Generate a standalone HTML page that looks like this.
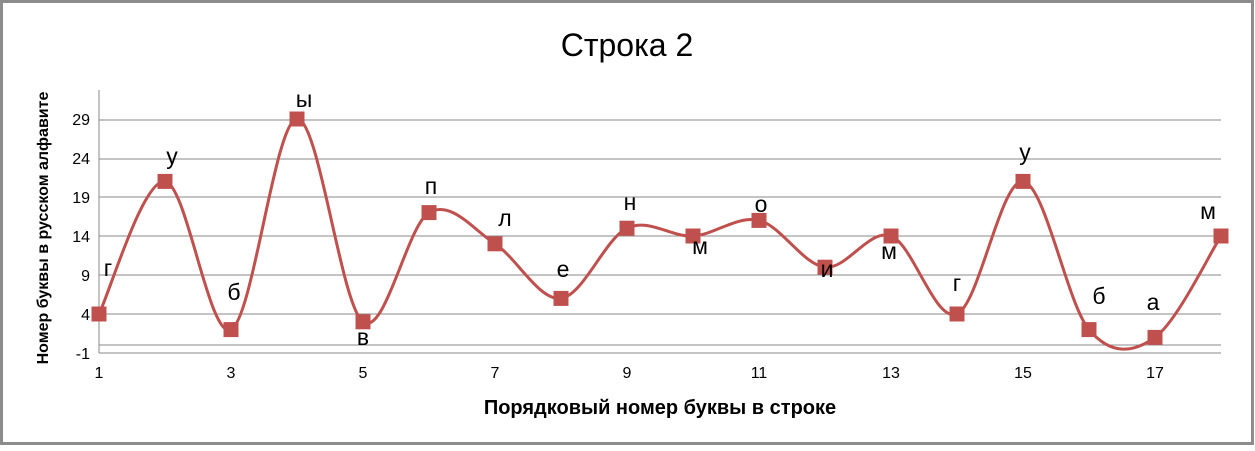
<!DOCTYPE html>
<html><head><meta charset="utf-8"><style>body{margin:0;background:#fff}</style></head><body>
<svg width="1255" height="446" xmlns="http://www.w3.org/2000/svg" font-family="Liberation Sans, DejaVu Sans, sans-serif">
<rect x="1.5" y="1.5" width="1251" height="442" fill="#fff" stroke="#8c8c8c" stroke-width="3"/>
<text x="627" y="56" font-size="32" text-anchor="middle" fill="#000">Строка 2</text>
<g stroke="#8a8a8a" stroke-width="1">
<line x1="99" y1="120" x2="1221" y2="120"/><line x1="99" y1="159" x2="1221" y2="159"/>
<line x1="99" y1="197" x2="1221" y2="197"/><line x1="99" y1="236" x2="1221" y2="236"/>
<line x1="99" y1="275" x2="1221" y2="275"/><line x1="99" y1="314" x2="1221" y2="314"/>
<line x1="99" y1="345" x2="1221" y2="345"/><line x1="99" y1="353" x2="1221" y2="353"/>
<line x1="99" y1="90" x2="99" y2="353"/>
</g>
<g font-size="16" text-anchor="end" fill="#000">
<text x="90" y="125">29</text><text x="90" y="164">24</text><text x="90" y="203">19</text>
<text x="90" y="242">14</text><text x="90" y="281">9</text><text x="90" y="320">4</text><text x="90" y="359">-1</text>
</g>
<g font-size="16" text-anchor="middle" fill="#000">
<text x="99" y="378">1</text><text x="231" y="378">3</text><text x="363" y="378">5</text><text x="495" y="378">7</text>
<text x="627" y="378">9</text><text x="759" y="378">11</text><text x="891" y="378">13</text><text x="1023" y="378">15</text><text x="1155" y="378">17</text>
</g>
<text x="660" y="414" font-size="20" font-weight="bold" text-anchor="middle">Порядковый номер буквы в строке</text>
<text transform="translate(48,228) rotate(-90)" font-size="16" font-weight="bold" text-anchor="middle">Номер буквы в русском алфавите</text>
<path fill="none" stroke="#c0504d" stroke-width="3" d="M99,314 C110,291.9 143,178.8 165,181.4 C187,184 209,340 231,329.6 C253,319.2 275,120.3 297,119 C319,117.7 341,306.2 363,321.8 C385,337.4 407,225.6 429,212.6 C451,199.6 473,229.5 495,243.8 C517,258.1 539,301 561,298.4 C583,295.8 605,238.6 627,228.2 C649,217.8 671,237.3 693,236 C715,234.7 737,215.2 759,220.4 C781,225.6 803,264.6 825,267.2 C847,269.8 869,228.2 891,236 C913,243.8 935,323.1 957,314 C979,304.9 1001,178.8 1023,181.4 C1045,184 1067,303.6 1089,329.6 C1111,355.6 1133,353 1155,337.4 C1177,321.8 1210,252.9 1221,236"/>
<g fill="#c0504d">
<rect x="91.5" y="306.5" width="15" height="15"/><rect x="157.5" y="173.9" width="15" height="15"/>
<rect x="223.5" y="322.1" width="15" height="15"/><rect x="289.5" y="111.5" width="15" height="15"/>
<rect x="355.5" y="314.3" width="15" height="15"/><rect x="421.5" y="205.1" width="15" height="15"/>
<rect x="487.5" y="236.3" width="15" height="15"/><rect x="553.5" y="290.9" width="15" height="15"/>
<rect x="619.5" y="220.7" width="15" height="15"/><rect x="685.5" y="228.5" width="15" height="15"/>
<rect x="751.5" y="212.9" width="15" height="15"/><rect x="817.5" y="259.7" width="15" height="15"/>
<rect x="883.5" y="228.5" width="15" height="15"/><rect x="949.5" y="306.5" width="15" height="15"/>
<rect x="1015.5" y="173.9" width="15" height="15"/><rect x="1081.5" y="322.1" width="15" height="15"/>
<rect x="1147.5" y="329.9" width="15" height="15"/><rect x="1213.5" y="228.5" width="15" height="15"/>
</g>
<g font-size="23" text-anchor="middle" fill="#000">
<text x="108" y="276">г</text><text x="172" y="164">у</text><text x="234" y="300">б</text>
<text x="304" y="107">ы</text><text x="363" y="345">в</text><text x="431" y="194">п</text>
<text x="505" y="226">л</text><text x="563" y="277">е</text><text x="630" y="210">н</text>
<text x="700" y="254">м</text><text x="761" y="212">о</text><text x="827" y="277">и</text>
<text x="889" y="259">м</text><text x="957" y="291">г</text><text x="1025" y="160">у</text>
<text x="1099" y="304">б</text><text x="1153" y="310">а</text><text x="1208" y="219">м</text>
</g>
</svg>
</body></html>
